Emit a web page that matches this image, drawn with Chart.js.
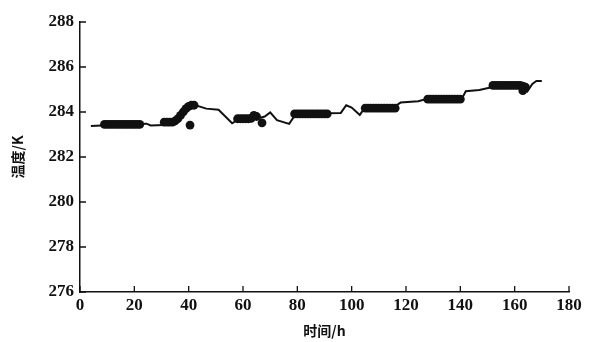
<!DOCTYPE html>
<html>
<head>
<meta charset="utf-8">
<script src="https://cdn.jsdelivr.net/npm/chart.js@4.4.1/dist/chart.umd.min.js"></script>
<style>
  html, body { margin: 0; padding: 0; background: #fff; }
  #box { width: 589px; height: 342px; position: relative; }
</style>
</head>
<body>
<div id="box"><canvas id="grafico"></canvas></div>
<script>
// curva continua (tiempo en h, temperatura en K)
var lineaTiempo = [4, 8, 24.5, 26, 31, 33, 36.5, 42, 46.5, 51, 56, 58, 65, 68, 70, 72.5, 77, 79.5, 96, 98, 100, 103, 105, 116.5, 118, 124.5, 127.5, 140.5, 142, 147, 151.5, 163.5, 164.7, 166.5, 168, 170];
var lineaTemp = [283.38, 283.4, 283.48, 283.4, 283.42, 283.55, 283.72, 284.32, 284.15, 284.1, 283.5, 283.65, 283.7, 283.8, 283.98, 283.64, 283.47, 283.92, 283.96, 284.3, 284.2, 283.87, 284.22, 284.3, 284.42, 284.48, 284.58, 284.58, 284.92, 284.98, 285.1, 285.12, 284.92, 285.25, 285.38, 285.38];

// puntos medidos
var puntosTiempo = [9, 10, 11, 12, 13, 14, 15, 16, 17, 18, 19, 20, 21, 22,
  31, 32, 33, 34, 35, 36, 37, 38, 39, 40, 41, 42, 40.5,
  58, 59, 60, 61, 62, 63, 64, 65, 67,
  79, 80, 81, 82, 83, 84, 85, 86, 87, 88, 89, 90, 91,
  105, 106, 107, 108, 109, 110, 111, 112, 113, 114, 115, 116,
  128, 129, 130, 131, 132, 133, 134, 135, 136, 137, 138, 139, 140,
  152, 153, 154, 155, 156, 157, 158, 159, 160, 161, 162, 163, 164, 163];
var puntosTemp = [283.45, 283.45, 283.45, 283.45, 283.45, 283.45, 283.45, 283.45, 283.45, 283.45, 283.45, 283.45, 283.45, 283.45,
  283.55, 283.55, 283.55, 283.55, 283.6, 283.7, 283.85, 284.0, 284.15, 284.25, 284.3, 284.3, 283.42,
  283.7, 283.7, 283.7, 283.7, 283.7, 283.72, 283.85, 283.8, 283.52,
  283.92, 283.92, 283.92, 283.92, 283.92, 283.92, 283.92, 283.92, 283.92, 283.92, 283.92, 283.92, 283.92,
  284.17, 284.17, 284.17, 284.17, 284.17, 284.17, 284.17, 284.17, 284.17, 284.17, 284.17, 284.17,
  284.57, 284.57, 284.57, 284.57, 284.57, 284.57, 284.57, 284.57, 284.57, 284.57, 284.57, 284.57, 284.57,
  285.18, 285.18, 285.18, 285.18, 285.18, 285.18, 285.18, 285.18, 285.18, 285.18, 285.18, 285.15, 285.1, 284.95];

var ejeX = { min: 0, max: 180, paso: 20 };
var ejeY = { min: 276, max: 288, paso: 2 };

function juntar(xs, ys) {
  var r = [];
  for (var i = 0; i < xs.length; i++) r.push({ x: xs[i], y: ys[i] });
  return r;
}

// marcas de los ejes hacia adentro
var marcasAdentro = {
  id: 'marcasAdentro',
  afterDraw: function (chart) {
    var ctx = chart.ctx, a = chart.chartArea;
    var sx = chart.scales.x, sy = chart.scales.y;
    ctx.save();
    ctx.strokeStyle = '#111';
    ctx.lineWidth = 1.3;
    ctx.beginPath();
    sx.ticks.forEach(function (t) {
      var px = sx.getPixelForValue(t.value);
      ctx.moveTo(px, a.bottom);
      ctx.lineTo(px, a.bottom - 6);
    });
    sy.ticks.forEach(function (t) {
      var py = sy.getPixelForValue(t.value);
      ctx.moveTo(a.left, py);
      ctx.lineTo(a.left + 6, py);
    });
    ctx.stroke();
    ctx.restore();
  }
};

new Chart(document.getElementById('grafico'), {
  type: 'scatter',
  data: {
    datasets: [
      {
        label: 'curva',
        data: juntar(lineaTiempo, lineaTemp),
        showLine: true,
        borderColor: '#111',
        borderWidth: 2,
        pointRadius: 0,
        fill: false
      },
      {
        label: 'medidos',
        data: juntar(puntosTiempo, puntosTemp),
        backgroundColor: '#111',
        borderColor: '#111',
        pointRadius: 4.4,
        borderWidth: 0
      }
    ]
  },
  options: {
    responsive: true,
    maintainAspectRatio: false,
    animation: false,
    events: [],
    layout: { padding: { top: 22, right: 20, left: 0, bottom: 0 } },
    plugins: { legend: { display: false }, tooltip: { enabled: false } },
    scales: {
      x: {
        type: 'linear',
        min: ejeX.min, max: ejeX.max,
        ticks: { stepSize: ejeX.paso, color: '#111', padding: 3,
          font: { family: 'Liberation Serif', size: 17, weight: 'bold' } },
        grid: { display: true, drawOnChartArea: false, drawTicks: false },
        border: { display: true, color: '#111', width: 1.5 },
        title: { display: true, text: '时间/h', color: '#111', padding: { bottom: 3 },
          font: { family: 'Noto Sans CJK SC', size: 14, weight: 'bold' } },
        afterFit: function (s) { s.height = 50; }
      },
      y: {
        type: 'linear',
        min: ejeY.min, max: ejeY.max,
        ticks: { stepSize: ejeY.paso, color: '#111', padding: 6,
          font: { family: 'Liberation Serif', size: 17, weight: 'bold' } },
        grid: { display: true, drawOnChartArea: false, drawTicks: false },
        border: { display: true, color: '#111', width: 1.5 },
        title: { display: true, text: '温度/K', color: '#111', padding: { top: 9 },
          font: { family: 'Noto Sans CJK SC', size: 14, weight: 'bold' } },
        afterFit: function (s) { s.width = 80; }
      }
    }
  },
  plugins: [marcasAdentro]
});
</script>
</body>
</html>
